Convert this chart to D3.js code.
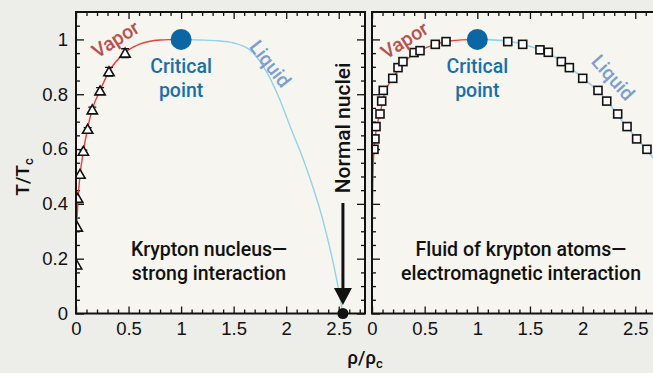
<!DOCTYPE html>
<html>
<head>
<meta charset="utf-8">
<script src="https://cdn.jsdelivr.net/npm/d3@7"></script>
<style>
  html, body { margin: 0; padding: 0; background: #ededea; }
  svg { display: block; font-family: Roboto, "DejaVu Sans", sans-serif; }
</style>
</head>
<body>
<svg id="chart" width="653" height="373"></svg>
<script>
// ---- data ----
// Nuclear liquid–gas coexistence (krypton nucleus), vapor-branch measurements
const nucRho = [0.467, 0.314, 0.229, 0.155, 0.111, 0.070, 0.038, 0.016, 0.012, 0.006];
const nucT   = [0.950, 0.882, 0.812, 0.743, 0.672, 0.592, 0.508, 0.420, 0.315, 0.177];
const nucErr = [0.016, 0.016, 0.012, 0.010, 0.006, 0.004, 0, 0, 0, 0];

// Fitted coexistence curves for the nucleus
const nucVaporRho = [0.0, 0.006, 0.012, 0.02, 0.04, 0.07, 0.11, 0.155, 0.23, 0.31, 0.46, 0.6, 0.8, 1.0];
const nucVaporT   = [0.28, 0.33, 0.36, 0.42, 0.51, 0.59, 0.675, 0.745, 0.815, 0.88, 0.95, 0.982, 0.998, 1.0];
const nucLiquidRho = [1.0, 1.18, 1.35, 1.5, 1.66, 1.82, 1.94, 2.04, 2.165, 2.35, 2.45, 2.5, 2.54];
const nucLiquidT   = [1.0, 0.998, 0.995, 0.987, 0.96, 0.877, 0.78, 0.68, 0.56, 0.34, 0.18, 0.085, 0.0];

// Krypton atomic fluid coexistence measurements
const atomVaporRho = [0.019, 0.028, 0.038, 0.076, 0.092, 0.107, 0.197, 0.247, 0.294, 0.399, 0.456, 0.601, 0.703];
const atomVaporT   = [0.599, 0.637, 0.682, 0.728, 0.775, 0.814, 0.858, 0.897, 0.919, 0.952, 0.959, 0.982, 0.992];
const atomLiquidRho = [1.289, 1.431, 1.595, 1.674, 1.798, 1.874, 2.001, 2.146, 2.229, 2.333, 2.422, 2.513, 2.611];
const atomLiquidT   = [0.992, 0.982, 0.962, 0.953, 0.919, 0.897, 0.858, 0.814, 0.775, 0.728, 0.682, 0.637, 0.599];

// Fitted coexistence curves for the atomic fluid
const atomVaporCurveRho = [0.0, 0.004, 0.01, 0.02, 0.045, 0.08, 0.11, 0.2, 0.3, 0.45, 0.6, 0.75, 1.0];
const atomVaporCurveT   = [0.0, 0.35, 0.52, 0.6, 0.68, 0.735, 0.79, 0.86, 0.915, 0.958, 0.982, 0.995, 1.0];
const atomLiquidCurveRho = [1.0, 1.3, 1.45, 1.6, 1.8, 2.0, 2.2, 2.4, 2.6, 2.75];
const atomLiquidCurveT   = [1.0, 0.993, 0.98, 0.962, 0.92, 0.86, 0.79, 0.69, 0.6, 0.53];

// Critical point and ground-state nuclear density
const critical = [1.0, 1.0];
const normalNuclei = [2.54, 0.0];

// Axis ticks
const xMajor = [0, 0.5, 1, 1.5, 2, 2.5];
const xMinor = d3.range(0, 28).map(i => +(i * 0.1).toFixed(2));
const yMajor = [0, 0.2, 0.4, 0.6, 0.8, 1];
const yMinor = d3.range(0, 22).map(i => +(i * 0.05).toFixed(2));
const xTickLabels = ["0", "0.5", "1", "1.5", "2", "2.5"];
const yTickLabels = ["0", "0.2", "0.4", "0.6", "0.8", "1"];

// ---- layout ----
const svg = d3.select("#chart");
const plotTop = 12, plotBottom = 313.5;
const panels = [
  { x0: 76, x1: 365, labels: true },
  { x0: 372, x1: 661.6, labels: false }
];
const y = d3.scaleLinear().domain([0, 1.1]).range([plotBottom, plotTop]);

const C = {
  bg: "#ededea", plot: "#f6f5ef", vaporLine: "#e8403a", liquidLine: "#93d2e8",
  vaporText: "#b8524e", liquidText: "#7b9fd2", crit: "#0b66a3", critText: "#1870ab"
};
const FS = { tick: 18.5, label: 19.5, caption: 19.5, title: 19 };

const defs = svg.append("defs");

function drawPanel(p, idx) {
  const x = d3.scaleLinear().domain([0, 2.75]).range([p.x0, p.x1]);
  const g = svg.append("g");
  const clipId = "clip" + idx;
  defs.append("clipPath").attr("id", clipId)
    .append("rect").attr("x", p.x0).attr("y", plotTop).attr("width", p.x1 - p.x0).attr("height", plotBottom - plotTop);

  g.append("rect").attr("x", p.x0).attr("y", plotTop).attr("width", p.x1 - p.x0).attr("height", plotBottom - plotTop)
    .attr("fill", C.plot);

  // ticks on all four sides, pointing inward
  const tickStyle = sel => {
    sel.select(".domain").remove();
    sel.selectAll(".tick line").attr("stroke", "#111").attr("stroke-width", 1.3);
    sel.selectAll(".tick text").attr("fill", "#111").attr("font-size", FS.tick).attr("font-weight", 500);
  };
  const minorX = xMinor.filter(v => !xMajor.includes(v) && x(v) < p.x1 - 1);
  const minorY = yMinor.filter(v => !yMajor.includes(v));

  g.append("g").attr("transform", `translate(0,${plotBottom})`)
    .call(d3.axisBottom(x).tickValues(minorX).tickSize(-4).tickFormat("")).call(tickStyle);
  g.append("g").attr("transform", `translate(0,${plotBottom})`)
    .call(d3.axisBottom(x).tickValues(xMajor).tickSize(-7).tickPadding(8)
      .tickFormat((d, i) => xTickLabels[i])).call(tickStyle);
  g.append("g").attr("transform", `translate(0,${plotTop})`)
    .call(d3.axisTop(x).tickValues(minorX).tickSize(-4).tickFormat("")).call(tickStyle);
  g.append("g").attr("transform", `translate(0,${plotTop})`)
    .call(d3.axisTop(x).tickValues(xMajor).tickSize(-7).tickFormat("")).call(tickStyle);

  g.append("g").attr("transform", `translate(${p.x0},0)`)
    .call(d3.axisLeft(y).tickValues(minorY).tickSize(-4).tickFormat("")).call(tickStyle);
  g.append("g").attr("transform", `translate(${p.x0},0)`)
    .call(d3.axisLeft(y).tickValues(yMajor).tickSize(-8).tickPadding(8)
      .tickFormat((d, i) => p.labels ? yTickLabels[i] : "")).call(tickStyle);
  g.append("g").attr("transform", `translate(${p.x1},0)`)
    .call(d3.axisRight(y).tickValues(minorY).tickSize(-4).tickFormat("")).call(tickStyle);
  g.append("g").attr("transform", `translate(${p.x1},0)`)
    .call(d3.axisRight(y).tickValues(yMajor).tickSize(-8).tickFormat("")).call(tickStyle);

  const plot = g.append("g").attr("clip-path", `url(#${clipId})`);
  return { x, g, plot };
}

const line = (x) => d3.line().x(d => x(d[0])).y(d => y(d[1])).curve(d3.curveMonotoneX);
const zip = (a, b) => a.map((v, i) => [v, b[i]]);

// ---------- left panel: krypton nucleus ----------
const L = drawPanel(panels[0], 0);
L.plot.append("path").datum(zip(nucVaporRho, nucVaporT))
  .attr("d", line(L.x)).attr("fill", "none").attr("stroke", C.vaporLine).attr("stroke-width", 1.4);
L.plot.append("path").datum(zip(nucLiquidRho, nucLiquidT))
  .attr("d", line(L.x)).attr("fill", "none").attr("stroke", C.liquidLine).attr("stroke-width", 1.4);

// error bars
const eb = L.plot.append("g").selectAll("g").data(zip(nucRho, nucT).map((d, i) => [...d, nucErr[i]]).filter(d => d[2] > 0))
  .join("g").attr("stroke", "#111").attr("stroke-width", 1.3);
eb.append("line").attr("x1", d => L.x(d[0])).attr("x2", d => L.x(d[0]))
  .attr("y1", d => y(d[1] + d[2])).attr("y2", d => y(d[1] - d[2]));
eb.append("line").attr("x1", d => L.x(d[0]) - 4).attr("x2", d => L.x(d[0]) + 4)
  .attr("y1", d => y(d[1] + d[2])).attr("y2", d => y(d[1] + d[2]));
eb.append("line").attr("x1", d => L.x(d[0]) - 4).attr("x2", d => L.x(d[0]) + 4)
  .attr("y1", d => y(d[1] - d[2])).attr("y2", d => y(d[1] - d[2]));

L.plot.append("g").selectAll("path").data(zip(nucRho, nucT)).join("path")
  .attr("d", d3.symbol(d3.symbolTriangle, 46))
  .attr("transform", d => `translate(${L.x(d[0])},${y(d[1]) + 1})`)
  .attr("fill", "#fff").attr("stroke", "#111").attr("stroke-width", 1.6);

// ---------- right panel: krypton atoms ----------
const R = drawPanel(panels[1], 1);
R.plot.append("path").datum(zip(atomVaporCurveRho, atomVaporCurveT))
  .attr("d", line(R.x)).attr("fill", "none").attr("stroke", C.vaporLine).attr("stroke-width", 1.4);
R.plot.append("path").datum(zip(atomLiquidCurveRho, atomLiquidCurveT))
  .attr("d", line(R.x)).attr("fill", "none").attr("stroke", C.liquidLine).attr("stroke-width", 1.6);
R.plot.append("g").selectAll("rect")
  .data(zip(atomVaporRho, atomVaporT).concat(zip(atomLiquidRho, atomLiquidT))).join("rect")
  .attr("x", d => R.x(d[0]) - 4).attr("y", d => y(d[1]) - 4).attr("width", 8).attr("height", 8)
  .attr("fill", "#fff").attr("stroke", "#111").attr("stroke-width", 1.6);

// frames
for (const p of panels) {
  svg.append("rect").attr("x", p.x0).attr("y", plotTop).attr("width", p.x1 - p.x0).attr("height", plotBottom - plotTop)
    .attr("fill", "none").attr("stroke", "#111").attr("stroke-width", 2);
}

// critical points and phase labels
for (const P of [L, R]) {
  svg.append("circle").attr("cx", P.x(critical[0])).attr("cy", y(critical[1])).attr("r", 10.5).attr("fill", C.crit);
  const ct = svg.append("text").attr("text-anchor", "middle").attr("fill", C.critText)
    .attr("font-size", FS.label).attr("font-weight", 500);
  ct.append("tspan").attr("x", P.x(1)).attr("y", 73).text("Critical");
  ct.append("tspan").attr("x", P.x(1)).attr("y", 97).text("point");
}
const phaseLabel = (cx, cy, rot, color, txt) =>
  svg.append("text").attr("transform", `translate(${cx},${cy}) rotate(${rot})`).attr("text-anchor", "middle")
    .attr("fill", color).attr("font-size", FS.label).attr("font-weight", 500).text(txt);
phaseLabel(119, 45, -32, C.vaporText, "Vapor");
phaseLabel(408, 46, -32, C.vaporText, "Vapor");
phaseLabel(265, 68, 52, C.liquidText, "Liquid");
phaseLabel(608, 82, 48, C.liquidText, "Liquid");

// panel captions
const cap = (cx, l1, l2) => {
  const t = svg.append("text").attr("text-anchor", "middle").attr("fill", "#111")
    .attr("font-size", FS.caption).attr("font-weight", 500);
  t.append("tspan").attr("x", cx).attr("y", 256).text(l1);
  t.append("tspan").attr("x", cx).attr("y", 280).text(l2);
};
cap(209, "Krypton nucleus—", "strong interaction");
cap(521, "Fluid of krypton atoms—", "electromagnetic interaction");

// normal nuclear density marker
const nx = L.x(normalNuclei[0]);
svg.append("line").attr("x1", nx).attr("x2", nx).attr("y1", 203).attr("y2", 292)
  .attr("stroke", "#111").attr("stroke-width", 3);
svg.append("path").attr("d", `M${nx - 9},${288} L${nx + 9},${288} L${nx},${305} Z`).attr("fill", "#111");
svg.append("circle").attr("cx", nx).attr("cy", y(normalNuclei[1])).attr("r", 5.5).attr("fill", "#111");
svg.append("text").attr("transform", `translate(${nx + 7},128) rotate(-90)`).attr("text-anchor", "middle")
  .attr("fill", "#111").attr("font-size", 21).attr("font-weight", 500).text("Normal nuclei");

// axis titles
const yt = svg.append("text").attr("transform", "translate(29,177) rotate(-90)").attr("text-anchor", "middle")
  .attr("fill", "#111").attr("font-size", FS.title).attr("font-weight", 500);
yt.append("tspan").text("T/T");
yt.append("tspan").attr("font-size", 13).attr("dy", 4).text("c");

const xt = svg.append("text").attr("x", 365).attr("y", 364).attr("text-anchor", "middle")
  .attr("fill", "#111").attr("font-size", FS.title).attr("font-weight", 500);
xt.append("tspan").text("ρ/ρ");
xt.append("tspan").attr("font-size", 13).attr("dy", 4).text("c");
</script>
</body>
</html>
